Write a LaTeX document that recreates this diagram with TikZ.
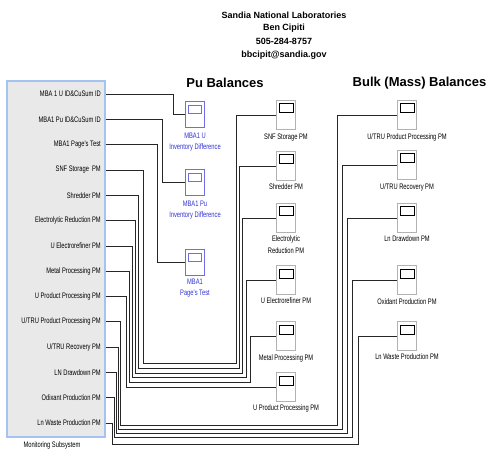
\documentclass[tikz,border=0pt]{standalone}
\usepackage{fontspec}
\setmainfont{Liberation Sans}
\newfontfamily\nf[FakeStretch=0.72]{Liberation Sans}
\usetikzlibrary{calc}
\definecolor{bluetxt}{RGB}{50,50,210}
\definecolor{blueln}{RGB}{110,110,230}
\definecolor{monblue}{RGB}{165,195,240}
\begin{document}
\begin{tikzpicture}[x=1pt,y=-1pt,
  sm/.style={font=\nf\fontsize{8}{9}\selectfont, inner sep=0pt},
  twol/.style={sm, align=center, font=\nf\fontsize{8}{11}\selectfont},
  blbl/.style={twol, text=bluetxt},
  port/.style={sm, anchor=east},
  hdr/.style={font=\bfseries\fontsize{9}{10}\selectfont, inner sep=0pt},
  ttl/.style={font=\bfseries\fontsize{13}{15}\selectfont, inner sep=0pt},
  pmblk/.style={draw=gray!60, fill=white, minimum width=19pt, minimum height=29pt, inner sep=0pt,
    path picture={\draw[draw=black, line width=1pt] ([xshift=-7pt,yshift=-3.5pt]path picture bounding box.north) rectangle ++(14pt,-9pt);}},
  mbablk/.style={draw=blueln, fill=white, minimum width=19pt, minimum height=26pt, inner sep=0pt,
    path picture={\draw[draw=blueln] ([xshift=-6.5pt,yshift=-4pt]path picture bounding box.north) rectangle ++(13pt,-8pt);}},
  wire/.style={draw=black!85, line width=0.5pt}]
\useasboundingbox (0,0) rectangle (490,449);

% header
\node[hdr] (h1) at (284,15) {Sandia National Laboratories};
\node[hdr] (h2) at (284,28) {Ben Cipiti};
\node[hdr] (h3) at (284,41) {505-284-8757};
\node[hdr] (h4) at (284,55) {bbcipit@sandia.gov};
\node[ttl] (tpu) at (225,83) {Pu Balances};
\node[ttl] (tbulk) at (419.5,83) {Bulk (Mass) Balances};

% monitoring subsystem
\node[draw=monblue, line width=1.5pt, fill=gray!17, minimum width=98pt, minimum height=356pt, inner sep=0pt] (mon) at (56,259) {};
\node[sm] (monlbl) at (52,445) {Monitoring Subsystem};
\node[port] (p1) at (101,94.0) {MBA 1 U ID\&CuSum ID};
\node[port] (p2) at (101,119.3) {MBA1 Pu ID\&CuSum ID};
\node[port] (p3) at (101,144.6) {MBA1 Page's Test};
\node[port] (p4) at (101,169.9) {SNF Storage\ \ PM};
\node[port] (p5) at (101,195.2) {Shredder PM};
\node[port] (p6) at (101,220.5) {Electrolytic Reduction PM};
\node[port] (p7) at (101,245.8) {U Electrorefiner PM};
\node[port] (p8) at (101,271.1) {Metal Processing PM};
\node[port] (p9) at (101,296.4) {U Product Processing PM};
\node[port] (p10) at (101,321.7) {U/TRU Product Processing PM};
\node[port] (p11) at (101,347.0) {U/TRU Recovery PM};
\node[port] (p12) at (101,372.3) {LN Drawdown PM};
\node[port] (p13) at (101,397.6) {Odixant Production PM};
\node[port] (p14) at (101,422.9) {Ln Waste Production PM};

% MBA blocks
\node[mbablk] (mbau) at (195,114) {};
\node[blbl] (mbaulbl) at (195,142) {MBA1 U\\Inventory Difference};
\node[mbablk] (mbapu) at (195,182) {};
\node[blbl] (mbapulbl) at (195,210.5) {MBA1 Pu\\Inventory Difference};
\node[mbablk] (page) at (195,262) {};
\node[blbl] (pagelbl) at (195,288.5) {MBA1\\Page's Test};

% Pu balance blocks
\node[pmblk] (snf) at (286,115) {};
\node[sm] (snflbl) at (286,138) {SNF Storage PM};
\node[pmblk] (shr) at (286,166) {};
\node[sm] (shrlbl) at (286,187) {Shredder PM};
\node[pmblk] (elr) at (286,218) {};
\node[twol, font=\nf\fontsize{8}{12}\selectfont] (elrlbl) at (286,245) {Electrolytic\\Reduction PM};
\node[pmblk] (uer) at (286,280) {};
\node[sm] (uerlbl) at (286,301) {U Electrorefiner PM};
\node[pmblk] (mtp) at (286,336) {};
\node[sm] (mtplbl) at (286,358) {Metal Processing PM};
\node[pmblk] (upp) at (286,387) {};
\node[sm] (upplbl) at (286,408) {U Product Processing PM};

% Bulk balance blocks
\node[pmblk] (utp) at (407,115) {};
\node[sm] (utplbl) at (407,137) {U/TRU Product Processing PM};
\node[pmblk] (utr) at (407,165) {};
\node[sm] (utrlbl) at (407,187) {U/TRU Recovery PM};
\node[pmblk] (lnd) at (407,218) {};
\node[sm] (lndlbl) at (407,239) {Ln Drawdown PM};
\node[pmblk] (oxp) at (407,280) {};
\node[sm] (oxplbl) at (407,302) {Oxidant Production PM};
\node[pmblk] (lnw) at (407,336) {};
\node[sm] (lnwlbl) at (407,357) {Ln Waste Production PM};

% MBA connectors
\draw[wire] (mon.east |- p1) -| ([xshift=-12pt]mbau.west) -- (mbau.west);
\draw[wire] (mon.east |- p2) -| ([xshift=-23pt]mbapu.west) -- (mbapu.west);
\draw[wire] (mon.east |- p3) -| ([xshift=-28pt]page.west) -- (page.west);

% Pu connectors
\draw[wire] (mon.east |- p4) -| (143,363) -| ([xshift=-40.5pt]snf.west) -- (snf.west);
\draw[wire] (mon.east |- p5) -| (138.5,368) -| ([xshift=-37.5pt]shr.west) -- (shr.west);
\draw[wire] (mon.east |- p6) -| (135,373) -| ([xshift=-34pt]elr.west) -- (elr.west);
\draw[wire] (mon.east |- p7) -| (132,377.5) -| ([xshift=-30pt]uer.west) -- (uer.west);
\draw[wire] (mon.east |- p8) -| (129.5,382) -| ([xshift=-26.5pt]mtp.west) -- (mtp.west);
\draw[wire] (mon.east |- p9) -| (126,387) -- (upp.west);

% Bulk connectors
\draw[wire] (mon.east |- p10) -| (120.5,425) -| ([xshift=-60.5pt]utp.west) -- (utp.west);
\draw[wire] (mon.east |- p11) -| (118.5,429) -| ([xshift=-55.5pt]utr.west) -- (utr.west);
\draw[wire] (mon.east |- p12) -| (116.5,433) -| ([xshift=-50.5pt]lnd.west) -- (lnd.west);
\draw[wire] (mon.east |- p13) -| (114.5,437.5) -| ([xshift=-45.5pt]oxp.west) -- (oxp.west);
\draw[wire] (mon.east |- p14) -| (112.5,444) -| ([xshift=-39.5pt]lnw.west) -- (lnw.west);
\end{tikzpicture}
\end{document}
